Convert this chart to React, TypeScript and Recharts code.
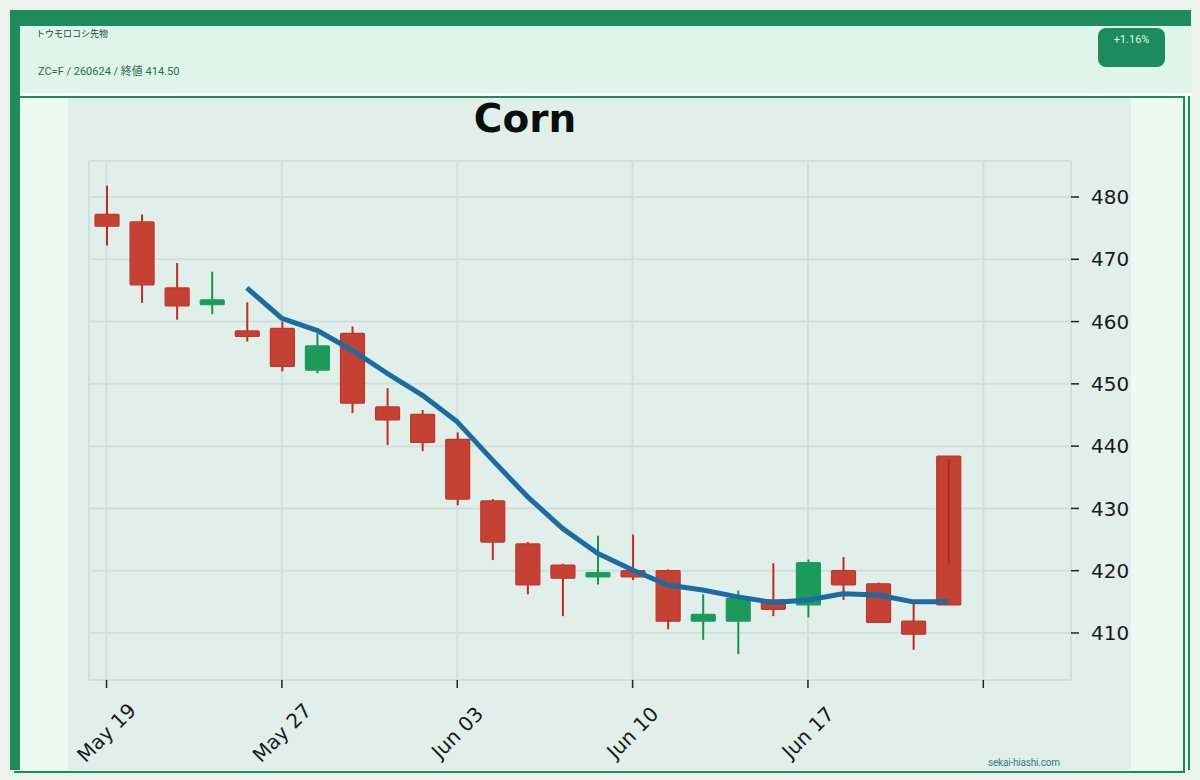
import React from "react";
import {
  ComposedChart,
  Bar,
  Line,
  XAxis,
  YAxis,
  CartesianGrid,
} from "recharts";

// trading days, index 0..24 (2026)
const dates = [
  "May 19", "May 20", "May 21", "May 22", "May 26", "May 27", "May 28", "May 29",
  "Jun 01", "Jun 02", "Jun 03", "Jun 04", "Jun 05", "Jun 08", "Jun 09", "Jun 10",
  "Jun 11", "Jun 12", "Jun 15", "Jun 16", "Jun 17", "Jun 18", "Jun 22", "Jun 23",
  "Jun 24",
];
const opens = [
  477.2, 476.0, 465.4, 462.7, 458.5, 458.9, 452.2, 458.1, 446.3, 445.1, 441.1,
  431.2, 424.3, 420.9, 419.0, 420.0, 420.0, 411.9, 411.9, 415.3, 414.5, 420.0,
  417.9, 411.9, 438.4,
];
const highs = [
  481.8, 477.2, 469.4, 468.0, 463.1, 460.0, 458.1, 459.2, 449.3, 445.8, 442.2,
  431.5, 424.6, 421.1, 425.6, 425.8, 420.2, 416.2, 416.8, 421.2, 421.8, 422.2,
  418.1, 414.9, 437.9,
];
const lows = [
  472.2, 463.0, 460.3, 461.2, 456.8, 452.0, 451.7, 445.3, 440.2, 439.2, 430.5,
  421.7, 416.2, 412.7, 417.8, 418.5, 410.6, 408.9, 406.6, 412.7, 412.5, 415.3,
  411.6, 407.3, 421.0,
];
const closes = [
  475.3, 465.9, 462.5, 463.5, 457.6, 452.8, 456.1, 446.9, 444.2, 440.6, 431.5,
  424.6, 417.7, 418.8, 419.7, 419.0, 411.9, 413.0, 415.6, 413.8, 421.3, 417.7,
  411.7, 409.8, 414.5,
];
// 5-day moving average
const ma5 = [
  null, null, null, null, 465.4, 460.5, 458.6, 455.4, 451.7, 448.2, 443.9,
  437.8, 431.9, 426.8, 422.8, 420.1, 417.7, 416.9, 415.8, 414.9, 415.3, 416.3,
  416.1, 415.0, 415.0,
];

const SLOTS = 28; // x range runs a few sessions past the last candle
const Y_TICKS = [410, 420, 430, 440, 450, 460, 470, 480];
const Y_MIN = 402.45;
const Y_MAX = 485.78;

const GRID = "#cfe0dc";
const GREEN = "#1c8c5e";
const FONT = "'DejaVu Sans', sans-serif";

const rows = Array.from({ length: SLOTS }, (_, i) => ({
  idx: i,
  open: i < opens.length ? opens[i] : null,
  high: i < highs.length ? highs[i] : null,
  low: i < lows.length ? lows[i] : null,
  close: i < closes.length ? closes[i] : null,
  ma: i < ma5.length ? ma5[i] : null,
}));

function Candle(props: any) {
  const { x, y, width, height, payload } = props;
  if (!payload || payload.open == null || !(height > 0)) return null;
  const { open, high, low, close } = payload;
  const k = height / (high - low);
  const py = (v: number) => y + (high - v) * k;
  const up = close >= open;
  const top = py(Math.max(open, close));
  const bot = py(Math.min(open, close));
  const cx = x + width / 2;
  const inside = high <= Math.max(open, close) && low >= Math.min(open, close);
  const wick = (
    <line
      x1={cx}
      x2={cx}
      y1={py(high)}
      y2={py(low)}
      stroke={up ? "#13954b" : inside ? "#b5281d" : "#c42a1d"}
      strokeWidth={2}
    />
  );
  const body = (
    <rect
      x={x}
      y={top}
      width={width}
      height={Math.max(bot - top, 1.5)}
      fill={up ? "#1b9a5c" : "#c44134"}
      stroke={up ? "#18a25e" : "#c3352a"}
      strokeWidth={1.2}
      rx={1}
    />
  );
  return <g>{inside ? <>{body}{wick}</> : <>{wick}{body}</>}</g>;
}

function DateTick(props: any) {
  const { x, y, payload } = props;
  const label = dates[payload?.value];
  if (!label) return null;
  const fs = 20;
  const off = 10 + (label.length * 0.6 * fs + fs) * 0.354;
  return (
    <text
      x={x}
      y={y + off}
      transform={`rotate(-45 ${x} ${y + off})`}
      textAnchor="middle"
      dominantBaseline="central"
      fontSize={fs}
      fontFamily={FONT}
      fill="#1a1a1a"
    >
      {label}
    </text>
  );
}

const abs = (s: React.CSSProperties): React.CSSProperties => ({ position: "absolute", ...s });

export default function App() {
  return (
    <div style={abs({ left: 0, top: 0, width: 1200, height: 780, background: "#ebf3ef", overflow: "hidden" })}>
      {/* card frame */}
      <div style={abs({ left: 10, top: 10, width: 1181, height: 16, background: GREEN })} />
      <div style={abs({ left: 20, top: 26, width: 1171, height: 67, background: "#dff4ea" })} />
      <div style={abs({ left: 20, top: 93, width: 1171, height: 3, background: "#ffffff" })} />
      <div
        style={abs({
          left: 14,
          top: 96,
          width: 1169,
          height: 673,
          background: "#edf9f3",
          borderTop: `2px solid ${GREEN}`,
          borderRight: `2px solid ${GREEN}`,
          borderBottom: `2px solid ${GREEN}`,
        })}
      />
      <div style={abs({ left: 1188, top: 96, width: 2, height: 674, background: GREEN })} />
      <div style={abs({ left: 10, top: 10, width: 10, height: 760, background: GREEN })} />

      {/* header */}
      <div style={abs({ left: 36, top: 29, fontSize: 9, lineHeight: "10px", color: "#1d4a3a", fontFamily: "'Noto Sans CJK JP', sans-serif" })}>
        トウモロコシ先物
      </div>
      <div style={abs({ left: 38, top: 66, fontSize: 11, lineHeight: "12px", color: "#1f6e4e", fontFamily: "Roboto, 'Noto Sans CJK JP', sans-serif" })}>
        ZC=F / 260624 / 終値 414.50
      </div>
      <div
        style={abs({
          left: 1098,
          top: 28,
          width: 67,
          height: 39,
          borderRadius: 8,
          background: GREEN,
          color: "#e3f3ea",
          fontSize: 11,
          lineHeight: "12px",
          paddingTop: 6,
          boxSizing: "border-box",
          textAlign: "center",
          fontFamily: "Roboto, sans-serif",
        })}
      >
        +1.16%
      </div>

      {/* chart image */}
      <div style={abs({ left: 68, top: 98, width: 1063, height: 672, background: "#e1efea" })}>
        <div
          style={abs({
            left: 525 - 68 - 100,
            top: 0.5,
            width: 200,
            textAlign: "center",
            fontFamily: FONT,
            fontWeight: 700,
            fontSize: 39,
            lineHeight: "39px",
            color: "#0a0f0c",
          })}
        >
          Corn
        </div>
        <ComposedChart
          width={1063}
          height={672}
          data={rows}
          margin={{ top: 63, right: 0, bottom: 0, left: 21 }}
        >
          <CartesianGrid stroke={GRID} strokeWidth={2} />
          <XAxis
            dataKey="idx"
            type="category"
            interval={4}
            height={90}
            axisLine={false}
            stroke="#222222"
            tickSize={8}
            tickLine={{ stroke: "#222222", strokeWidth: 1.5 }}
            tick={<DateTick />}
          />
          <YAxis
            orientation="right"
            type="number"
            domain={[Y_MIN, Y_MAX]}
            ticks={Y_TICKS}
            allowDataOverflow
            width={60}
            axisLine={false}
            stroke="#222222"
            tickSize={8}
            tickMargin={12}
            tickLine={{ stroke: "#222222", strokeWidth: 1.5 }}
            tick={{ fontSize: 20, fill: "#1a1a1a", fontFamily: FONT }}
          />
          <Bar
            dataKey={(d: any) => (d.open == null ? null : [d.low, d.high])}
            barSize={24}
            shape={<Candle />}
            isAnimationActive={false}
          />
          <Line
            dataKey="ma"
            type="linear"
            stroke="#1b6ca3"
            strokeWidth={5}
            dot={false}
            activeDot={false}
            strokeLinecap="butt"
            strokeLinejoin="round"
            isAnimationActive={false}
          />
        </ComposedChart>
        <div
          style={abs({
            left: 988 - 68,
            top: 659,
            fontSize: 10,
            lineHeight: "11px",
            color: "#2a7f88",
            fontFamily: "Roboto, sans-serif",
            letterSpacing: -0.2,
          })}
        >
          sekai-hiashi.com
        </div>
      </div>
    </div>
  );
}
